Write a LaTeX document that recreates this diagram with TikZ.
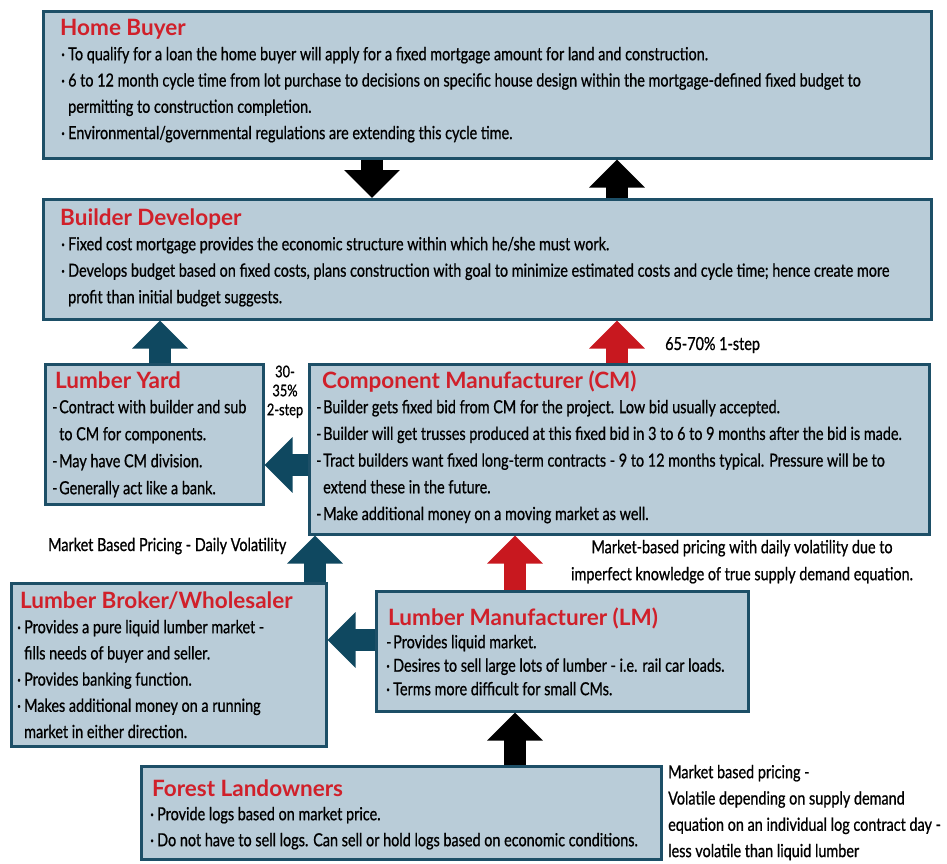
\documentclass[tikz,border=0pt]{standalone}
\usepackage{fontspec}
\setmainfont{Lato}
\newfontfamily\bodyf[FakeStretch=0.8,FakeBold=0.8]{Lato}
\newfontfamily\titlef{Lato}
\usetikzlibrary{arrows.meta}
\definecolor{boxfill}{HTML}{B9CCD8}
\definecolor{boxline}{HTML}{1D4F67}
\definecolor{arrteal}{HTML}{0F4860}
\definecolor{arrred}{HTML}{C8181F}
\definecolor{titlered}{HTML}{D0202A}
\newcommand\bl{\makebox[7pt][l]{·}}
\newcommand\dl{\makebox[7pt][l]{-}}
\newcommand\cl{\makebox[7pt][l]{}}
\newcommand\fr{\rule{0pt}{14pt}}
\tikzset{
  box/.style={draw=boxline, line width=2.5pt, fill=boxfill, inner sep=0pt, anchor=north west},
  ttl/.style={anchor=base west, inner sep=0pt, text=titlered, font=\titlef\bfseries\fontsize{22.5}{24}\selectfont},
  body/.style={anchor=north west, inner sep=0pt, align=left, font=\bodyf\fontsize{18}{26.5}\selectfont},
  lbl/.style={inner sep=0pt, font=\bodyf\fontsize{18}{19}\selectfont},
  barrow/.style={line width=22pt, -{Triangle[width=54pt,length=28pt]}},
}
\begin{document}
\begin{tikzpicture}[x=1pt,y=-1pt]
\useasboundingbox (0,0) rectangle (947,863);
\fill[white] (0,0) rectangle (947,863);
% boxes
\node[box, minimum width=888pt, minimum height=147pt] (HB) at (42,10) {};
\node[box, minimum width=888pt, minimum height=120pt] (BD) at (42,198) {};
\node[box, minimum width=218pt, minimum height=140pt] (LY) at (44,363) {};
\node[box, minimum width=620pt, minimum height=170pt] (CM) at (308,363) {};
\node[box, minimum width=315pt, minimum height=163pt] (LB) at (10,582) {};
\node[box, minimum width=372pt, minimum height=120pt] (LM) at (375,590) {};
\node[box, minimum width=520pt, minimum height=93pt] (FL) at (140,765) {};
% titles
\node[ttl] (HBt) at (60,35) {Home Buyer};
\node[ttl] (BDt) at (60,225) {Builder Developer};
\node[ttl] (LYt) at (55,388) {Lumber Yard};
\node[ttl] (CMt) at (322,388) {Component Manufacturer (CM)};
\node[ttl] (LBt) at (20,608) {Lumber Broker/Wholesaler};
\node[ttl] (LMt) at (388,625) {Lumber Manufacturer (LM)};
\node[ttl] (FLt) at (152,796) {Forest Landowners};
% bodies
\node[body, font=\bodyf\fontsize{18}{26.3}\selectfont] (HBb) at (61,46) {\fr\bl To qualify for a loan the home buyer will apply for a fixed mortgage amount for land and construction.\\
\bl 6 to 12 month cycle time from lot purchase to decisions on specific house design within the mortgage-defined fixed budget to\\
\cl permitting to construction completion.\\
\bl Environmental/governmental regulations are extending this cycle time.};
\node[body] (BDb) at (61,236) {\fr\bl Fixed cost mortgage provides the economic structure within which he/she must work.\\
\bl Develops budget based on fixed costs, plans construction with goal to minimize estimated costs and cycle time; hence create more\\
\cl profit than initial budget suggests.};
\node[body, font=\bodyf\fontsize{18}{27}\selectfont] (LYb) at (52,399) {\fr\dl Contract with builder and sub\\
\cl to CM for components.\\
\dl May have CM division.\\
\dl Generally act like a bank.};
\node[body, font=\bodyf\fontsize{18}{26.7}\selectfont] (CMb) at (316,399) {\fr\dl Builder gets fixed bid from CM for the project. Low bid usually accepted.\\
\dl Builder will get trusses produced at this fixed bid in 3 to 6 to 9 months after the bid is made.\\
\dl Tract builders want fixed long-term contracts - 9 to 12 months typical. Pressure will be to\\
\cl extend these in the future.\\
\dl Make additional money on a moving market as well.};
\node[body, font=\bodyf\fontsize{18}{26.2}\selectfont] (LBb) at (17,619) {\fr\bl Provides a pure liquid lumber market -\\
\cl fills needs of buyer and seller.\\
\bl Provides banking function.\\
\bl Makes additional money on a running\\
\cl market in either direction.};
\node[body, font=\bodyf\fontsize{18}{23.5}\selectfont] (LMb) at (386,634) {\fr\dl Provides liquid market.\\
\bl Desires to sell large lots of lumber - i.e. rail car loads.\\
\bl Terms more difficult for small CMs.};
\node[body, font=\bodyf\fontsize{18}{26}\selectfont] (FLb) at (150,806) {\fr\bl Provide logs based on market price.\\
\bl Do not have to sell logs. Can sell or hold logs based on economic conditions.};
% labels
\node[lbl, anchor=base west] (L1) at (665,350) {65-70\% 1-step};
\node[lbl, align=center, anchor=north, font=\bodyf\fontsize{16}{19}\selectfont] (L2) at (285,363) {\fr 30-\\35\%\\2-step};
\node[lbl, anchor=base west] (L3) at (48,551) {Market Based Pricing - Daily Volatility};
\node[lbl, align=center, anchor=north, font=\bodyf\fontsize{18}{27}\selectfont] (L4) at (742,539) {\fr Market-based pricing with daily volatility due to\\imperfect knowledge of true supply demand equation.};
\node[lbl, align=left, anchor=north west, font=\bodyf\fontsize{18}{26.3}\selectfont] (L5) at (668,764) {\fr Market based pricing -\\Volatile depending on supply demand\\equation on an individual log contract day -\\less volatile than liquid lumber};
% arrow guide coordinates
\coordinate (x160) at (160,0);
\coordinate (x315) at (315,0);
\coordinate (x372) at (372,0);
\coordinate (x515) at (515,0);
\coordinate (x617) at (617,0);
\coordinate (y465) at (0,465);
\coordinate (y640) at (0,640);
% arrows
\draw[barrow, black] (HB.south -| x372) -- (BD.north -| x372);
\draw[barrow, black] (BD.north -| x617) -- (HB.south -| x617);
\draw[barrow, arrteal] (LY.north -| x160) -- (BD.south -| x160);
\draw[barrow, arrred] (CM.north -| x617) -- (BD.south -| x617);
\draw[barrow, arrteal] (CM.west |- y465) -- (LY.east |- y465);
\draw[barrow, arrteal] (LB.north -| x315) -- (CM.south -| x315);
\draw[barrow, arrred] (LM.north -| x515) -- (CM.south -| x515);
\draw[barrow, arrteal] (LM.west |- y640) -- (LB.east |- y640);
\draw[barrow, black] (FL.north -| x515) -- (LM.south -| x515);
\end{tikzpicture}
\end{document}
